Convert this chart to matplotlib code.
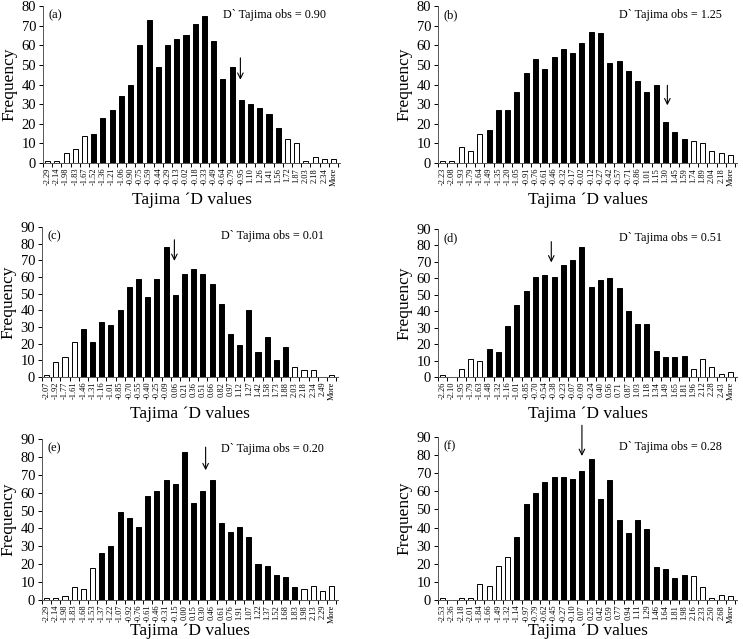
import matplotlib
matplotlib.use("Agg")
import matplotlib.pyplot as plt
import numpy as np

plt.rcParams["font.family"] = ["Liberation Serif", "DejaVu Serif"]

# ---- data -------------------------------------------------------------
labels_a = ["-2.29", "-2.14", "-1.98", "-1.83", "-1.67", "-1.52", "-1.36", "-1.21",
            "-1.06", "-0.90", "-0.75", "-0.59", "-0.44", "-0.29", "-0.13", "-0.02",
            "-0.18", "-0.33", "-0.49", "-0.64", "-0.79", "-0.95", "1.10", "1.26",
            "1.41", "1.56", "1.72", "1.87", "2.03", "2.18", "2.34", "More"]
values_a = [1, 1, 5, 7, 14, 15, 23, 27, 34, 40, 60, 73, 49, 60, 63, 65,
            71, 75, 62, 43, 49, 32, 30, 28, 25, 18, 12, 10, 1, 3, 2, 2]
white_a = [0, 1, 2, 3, 4, 26, 27, 28, 29, 30, 31]

labels_b = ["-2.23", "-2.08", "-1.93", "-1.79", "-1.64", "-1.49", "-1.35", "-1.20",
            "-1.05", "-0.91", "-0.76", "-0.61", "-0.46", "-0.32", "-0.17", "-0.02",
            "-0.12", "-0.27", "-0.42", "-0.57", "-0.71", "-0.86", "1.01", "1.15",
            "1.30", "1.45", "1.59", "1.74", "1.89", "2.04", "2.18", "More"]
values_b = [1, 1, 8, 6, 15, 17, 27, 27, 36, 46, 53, 48, 54, 58, 56, 61,
            67, 66, 51, 52, 47, 42, 36, 40, 21, 16, 12, 11, 10, 6, 5, 4]
white_b = [0, 1, 2, 3, 4, 27, 28, 29, 30, 31]

labels_c = ["-2.07", "-1.92", "-1.77", "-1.61", "-1.46", "-1.31", "-1.16", "-1.01",
            "-0.85", "-0.70", "-0.55", "-0.40", "-0.25", "-0.09", "0.06", "0.21",
            "0.36", "0.51", "0.66", "0.82", "0.97", "1.12", "1.27", "1.42",
            "1.58", "1.73", "1.88", "2.03", "2.18", "2.34", "2.49", "More"]
values_c = [1, 9, 12, 21, 29, 21, 33, 31, 40, 54, 59, 48, 59, 78, 49, 62,
            65, 62, 56, 44, 26, 19, 40, 15, 24, 10, 18, 6, 4, 4, 0, 1]
white_c = [0, 1, 2, 3, 27, 28, 29, 30, 31]

labels_d = ["-2.26", "-2.10", "-1.95", "-1.79", "-1.63", "-1.48", "-1.32", "-1.16",
            "-1.01", "-0.85", "-0.70", "-0.54", "-0.38", "-0.23", "-0.07", "-0.09",
            "-0.24", "0.40", "0.56", "0.71", "0.87", "1.03", "1.18", "1.34",
            "1.49", "1.65", "1.81", "1.96", "2.12", "2.28", "2.43", "More"]
values_d = [1, 0, 5, 11, 10, 17, 15, 31, 44, 52, 61, 62, 61, 68, 71, 79,
            55, 59, 60, 54, 40, 32, 32, 16, 12, 12, 13, 5, 11, 6, 2, 3]
white_d = [0, 1, 2, 3, 4, 27, 28, 29, 30, 31]

labels_e = ["-2.29", "-2.14", "-1.98", "-1.83", "-1.68", "-1.53", "-1.37", "-1.22",
            "-1.07", "-0.92", "-0.76", "-0.61", "-0.46", "-0.31", "-0.15", "0.00",
            "0.15", "0.30", "0.46", "0.61", "0.76", "1.91", "1.07", "1.22",
            "1.37", "1.52", "1.68", "1.83", "1.98", "2.13", "2.29", "More"]
values_e = [1, 1, 2, 7, 6, 18, 26, 30, 49, 46, 41, 58, 61, 67, 65, 83,
            54, 61, 67, 43, 38, 41, 35, 20, 19, 14, 13, 7, 6, 8, 5, 8]
white_e = [0, 1, 2, 3, 4, 5, 28, 29, 30, 31]

labels_f = ["-2.53", "-2.36", "-2.18", "-2.01", "-1.84", "-1.66", "-1.49", "-1.32",
            "-1.14", "-0.97", "-0.79", "-0.62", "-0.45", "-0.27", "-0.10", "0.07",
            "0.25", "0.42", "0.59", "0.77", "0.94", "1.11", "1.29", "1.46",
            "1.64", "1.81", "1.98", "2.16", "2.33", "2.50", "2.68", "More"]
values_f = [1, 0, 1, 1, 9, 8, 19, 24, 35, 53, 59, 65, 68, 68, 67, 71,
            78, 56, 66, 44, 37, 44, 39, 18, 17, 12, 14, 13, 7, 1, 3, 2]
white_f = [0, 1, 2, 3, 4, 5, 6, 7, 27, 28, 29, 30, 31]

panel_tags = ["(a)", "(b)", "(c)", "(d)", "(e)", "(f)"]
obs_values = ["0.90", "1.25", "0.01", "0.51", "0.20", "0.28"]
y_max = [80, 80, 90, 90, 90, 90]
# arrow: (x position, arrow tail, arrow head) in data units
arrows = [(20.9, 55, 41), (24.2, 41, 28), (13.9, 84, 68),
          (11.7, 84, 68), (17.3, 87, 71), (15.0, 98, 78)]

panels = [
    (labels_a, values_a, white_a),
    (labels_b, values_b, white_b),
    (labels_c, values_c, white_c),
    (labels_d, values_d, white_d),
    (labels_e, values_e, white_e),
    (labels_f, values_f, white_f),
]

# axes boxes in pixels: left, right, top, bottom
W, H = 743, 639
boxes = [
    (43, 340, 6, 163),
    (438, 737, 6, 163),
    (42, 338, 227, 377),
    (438, 737, 229, 377),
    (42, 338, 439, 600),
    (438, 737, 437, 600),
]
xlabel_pad = [4, 4, 4, 4, 0, 0]

fig = plt.figure(figsize=(W / 100, H / 100), dpi=100)

for k, (labels, values, white) in enumerate(panels):
    l, r, t, b = boxes[k]
    ax = fig.add_axes([l / W, 1 - b / H, (r - l) / W, (b - t) / H])
    x = np.arange(len(values))
    colors = ["white" if i in white else "black" for i in x]
    ax.bar(x, values, width=0.55, color=colors, edgecolor="black", linewidth=0.7)

    ax.set_xlim(-0.5, len(values) - 0.3)
    ax.set_ylim(0, y_max[k])
    ax.set_yticks(np.arange(0, y_max[k] + 1, 10))
    ax.tick_params(axis="y", direction="out", length=3, width=0.7, labelsize=10.5, pad=2)

    ax.set_xticks(x)
    ax.set_xticklabels(labels, rotation=90, fontsize=6)
    ax.tick_params(axis="x", which="major", length=0, pad=3.5)
    ax.set_xticks(np.arange(-0.5, len(values)), minor=True)
    ax.tick_params(axis="x", which="minor", direction="out", length=3, width=0.7)

    for side in ("top", "right"):
        ax.spines[side].set_visible(False)
    for side in ("left", "bottom"):
        ax.spines[side].set_linewidth(0.7)
        ax.spines[side].set_color("#555555")

    ax.set_ylabel("Frequency", fontsize=12.5, labelpad=3)
    ax.set_xlabel("Tajima \u00b4D values", fontsize=12.5, labelpad=xlabel_pad[k])

    ax.text(0.02, 0.94, panel_tags[k], transform=ax.transAxes,
            ha="left", va="center", fontsize=9)
    ax.text(0.605, 0.94, f"D` Tajima obs = {obs_values[k]}", transform=ax.transAxes,
            ha="left", va="center", fontsize=8.7)

    ax_x, y0, y1 = arrows[k]
    ax.annotate("", xy=(ax_x, y1), xytext=(ax_x, y0), annotation_clip=False,
                arrowprops=dict(arrowstyle="->", lw=0.8, color="black"))

fig.savefig("out.png", dpi=100, facecolor="white")
